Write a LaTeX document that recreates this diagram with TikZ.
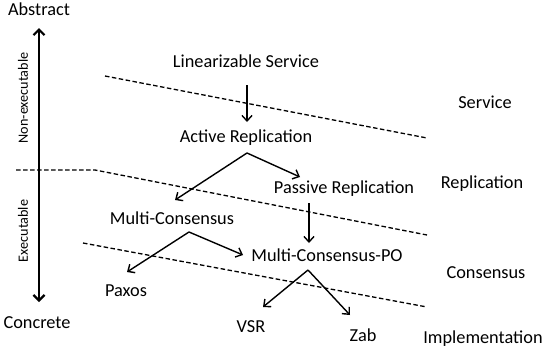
\documentclass[tikz,border=0pt]{standalone}
\usepackage{fontspec}
\setmainfont{Carlito}
\usetikzlibrary{arrows.meta}
\begin{document}
\begin{tikzpicture}[x=1pt,y=-1pt,
  lbl/.style={font=\fontsize{18.3}{20}\selectfont, inner sep=0pt},
  side/.style={font=\fontsize{14.2}{16}\selectfont, inner sep=0pt, rotate=90},
  arr/.style={line width=1.4pt, -{Straight Barb[length=5.5pt,width=10pt,line width=1.4pt]}},
  dline/.style={line width=1.3pt, dash pattern=on 4.5pt off 2.5pt},
  axis/.style={line width=2.2pt, {Straight Barb[length=5.5pt,width=11pt,line width=2.2pt]}-{Straight Barb[length=5.5pt,width=11pt,line width=2.2pt]}}]
\useasboundingbox (0,0) rectangle (544,351);
% axis
\node[lbl] (abs) at (39,9) {Abstract};
\node[lbl] (con) at (37,323) {Concrete};
\coordinate (axtop) at (39,28);
\coordinate (axbot) at (39,302);
\draw[axis] (axtop) -- (axbot);
\node[side] (nonex) at (23,98) {Non-executable};
\node[side] (ex) at (23,231) {Executable};
% dashed lines
\coordinate (d1a) at (105,76); \coordinate (d1b) at (427,138);
\coordinate (d2a) at (16,170); \coordinate (d2m) at (95,170); \coordinate (d2b) at (427,235);
\coordinate (d3a) at (83,243); \coordinate (d3b) at (427,307);
\draw[dline] (d1a) -- (d1b);
\draw[dline] (d2a) -- (d2m) -- (d2b);
\draw[dline] (d3a) -- (d3b);
% layer labels
\node[lbl] (svc) at (485,102) {Service};
\node[lbl] (rep) at (482,184) {Replication};
\node[lbl] (cns) at (486,273) {Consensus};
\node[lbl] (imp) at (483,339) {Implementation};
% nodes
\node[lbl] (lin) at (246,61) {Linearizable Service};
\node[lbl] (act) at (246,138) {Active Replication};
\node[lbl] (pas) at (344,189) {Passive Replication};
\node[lbl] (mc) at (172,218) {Multi-Consensus};
\node[lbl] (mcpo) at (327,255) {Multi-Consensus-PO};
\node[lbl] (pax) at (126,291) {Paxos};
\node[lbl] (vsr) at (251,327) {VSR};
\node[lbl] (zab) at (363,335) {Zab};
% connector points
\coordinate (linb) at (247,85);
\coordinate (actt) at (247,122);
\coordinate (actb) at (247,153);
\coordinate (past) at (300,177);
\coordinate (mct) at (175,200);
\coordinate (pasb) at (309,203);
\coordinate (mcpot) at (309,243);
\coordinate (mcb) at (189,232);
\coordinate (paxt) at (127,272);
\coordinate (mcpol) at (243,255);
\coordinate (mcpob) at (308,270);
\coordinate (vsrt) at (263,307);
\coordinate (zabt) at (350,315);
\draw[arr] (linb) -- (actt);
\draw[arr] (actb) -- (past);
\draw[arr] (actb) -- (mct);
\draw[arr] (pasb) -- (mcpot);
\draw[arr] (mcb) -- (paxt);
\draw[arr] (mcb) -- (mcpol);
\draw[arr] (mcpob) -- (vsrt);
\draw[arr] (mcpob) -- (zabt);
\end{tikzpicture}
\end{document}
